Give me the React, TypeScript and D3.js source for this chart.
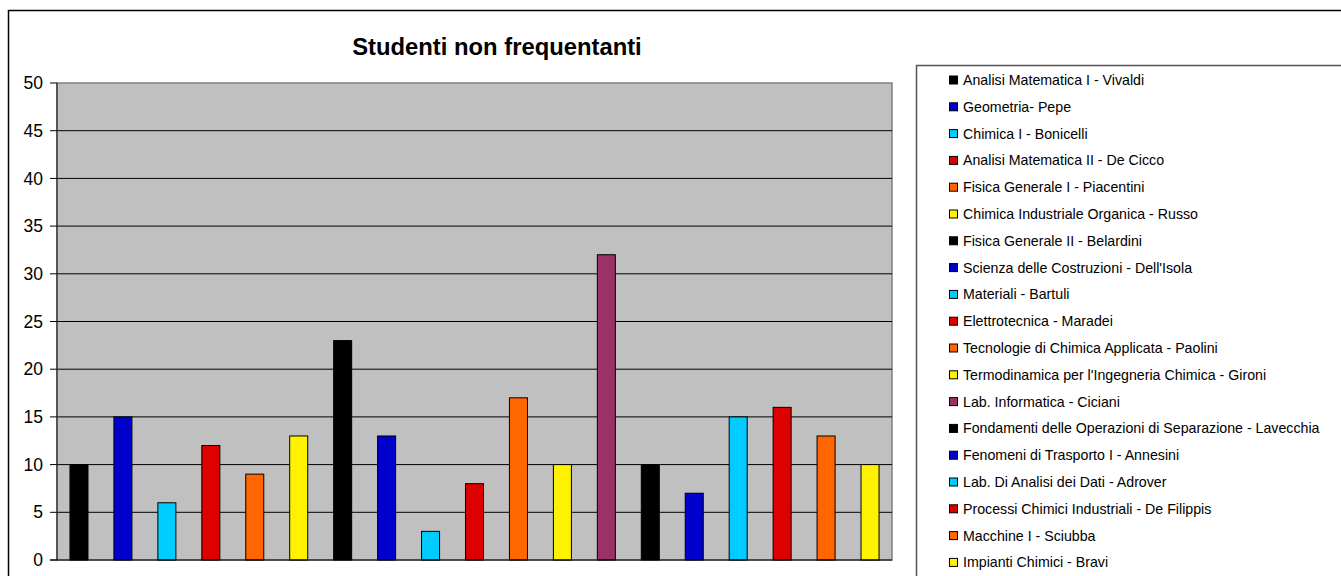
import React from "react";
import * as d3 from "d3";

const courses: string[] = [
  "Analisi Matematica I - Vivaldi",
  "Geometria- Pepe",
  "Chimica I - Bonicelli",
  "Analisi Matematica II - De Cicco",
  "Fisica Generale I - Piacentini",
  "Chimica Industriale Organica - Russo",
  "Fisica Generale II - Belardini",
  "Scienza delle Costruzioni - Dell'Isola",
  "Materiali - Bartuli",
  "Elettrotecnica - Maradei",
  "Tecnologie di Chimica Applicata - Paolini",
  "Termodinamica per l'Ingegneria Chimica - Gironi",
  "Lab. Informatica - Ciciani",
  "Fondamenti delle Operazioni di Separazione - Lavecchia",
  "Fenomeni di Trasporto I - Annesini",
  "Lab. Di Analisi dei Dati - Adrover",
  "Processi Chimici Industriali - De Filippis",
  "Macchine I - Sciubba",
  "Impianti Chimici - Bravi",
];

const values: number[] = [10, 15, 6, 12, 9, 13, 23, 13, 3, 8, 17, 10, 32, 10, 7, 15, 16, 13, 10];

const colors: string[] = [
  "#000000", "#0000CC", "#00CCFF", "#DD0000", "#FF6600", "#FFF200",
  "#000000", "#0000CC", "#00CCFF", "#DD0000", "#FF6600", "#FFF200",
  "#993366",
  "#000000", "#0000CC", "#00CCFF", "#DD0000", "#FF6600", "#FFF200",
];

const yTicks: number[] = [0, 5, 10, 15, 20, 25, 30, 35, 40, 45, 50];

const title = "Studenti non frequentanti";

export default function App() {
  const W = 1341;
  const H = 576;
  const plot = { left: 57, right: 892, top: 83, bottom: 560 };

  const x = d3
    .scaleBand<number>()
    .domain(d3.range(values.length))
    .range([plot.left, plot.right])
    .paddingInner(0.59)
    .paddingOuter(0.295);
  const y = d3.scaleLinear().domain([0, 50]).range([plot.bottom, plot.top]);

  const legend = { x: 916, y: 65, rowStart: 80, rowStep: 26.8 };
  const font = "Arial, 'Liberation Sans', Helvetica, sans-serif";

  return (
    <svg
      width={W}
      height={H}
      style={{ position: "absolute", left: 0, top: 0, fontFamily: font }}
    >
      <rect x={0} y={0} width={W} height={H} fill="#fff" />
      {/* outer chart border */}
      <rect x={8.5} y={10.5} width={W + 10} height={H + 10} fill="none" stroke="#000" strokeWidth={1.5} />

      {/* title */}
      <text x={497} y={55} textAnchor="middle" fontSize={23.8} fontWeight="bold" fill="#000">
        {title}
      </text>

      {/* plot area */}
      <rect
        x={plot.left}
        y={plot.top}
        width={plot.right - plot.left}
        height={plot.bottom - plot.top}
        fill="#C0C0C0"
        stroke="#808080"
        strokeWidth={1.5}
      />
      {yTicks.filter((t) => t > 0 && t < 50).map((t) => (
        <line key={t} x1={plot.left} x2={plot.right} y1={y(t)} y2={y(t)} stroke="#000" strokeWidth={1} />
      ))}

      {/* y axis */}
      <line x1={plot.left} x2={plot.left} y1={plot.top} y2={plot.bottom} stroke="#404040" strokeWidth={1.5} />
      {yTicks.map((t) => (
        <g key={t}>
          <line x1={plot.left - 7} x2={plot.left} y1={y(t)} y2={y(t)} stroke="#000" strokeWidth={1} />
          <text x={43} y={y(t)} dy="0.35em" textAnchor="end" fontSize={17.5} fill="#000">
            {t}
          </text>
        </g>
      ))}

      {/* bars */}
      {values.map((v, i) => (
        <rect
          key={i}
          x={x(i)}
          y={y(v)}
          width={x.bandwidth()}
          height={y(0) - y(v)}
          fill={colors[i]}
          stroke="#000"
          strokeWidth={1}
        />
      ))}
      <line x1={plot.left - 7} x2={plot.right} y1={plot.bottom} y2={plot.bottom} stroke="#000" strokeWidth={1} />

      {/* legend */}
      <rect x={legend.x + 0.5} y={legend.y + 0.5} width={W} height={H} fill="#fff" stroke="#555" strokeWidth={1.5} />
      {courses.map((c, i) => {
        const cy = legend.rowStart + i * legend.rowStep;
        return (
          <g key={c}>
            <rect x={949.5} y={cy - 4} width={8} height={8} fill={colors[i]} stroke="#000" strokeWidth={1} />
            <text x={963} y={cy} dy="0.35em" fontSize={14.2} fill="#000">
              {c}
            </text>
          </g>
        );
      })}
    </svg>
  );
}
